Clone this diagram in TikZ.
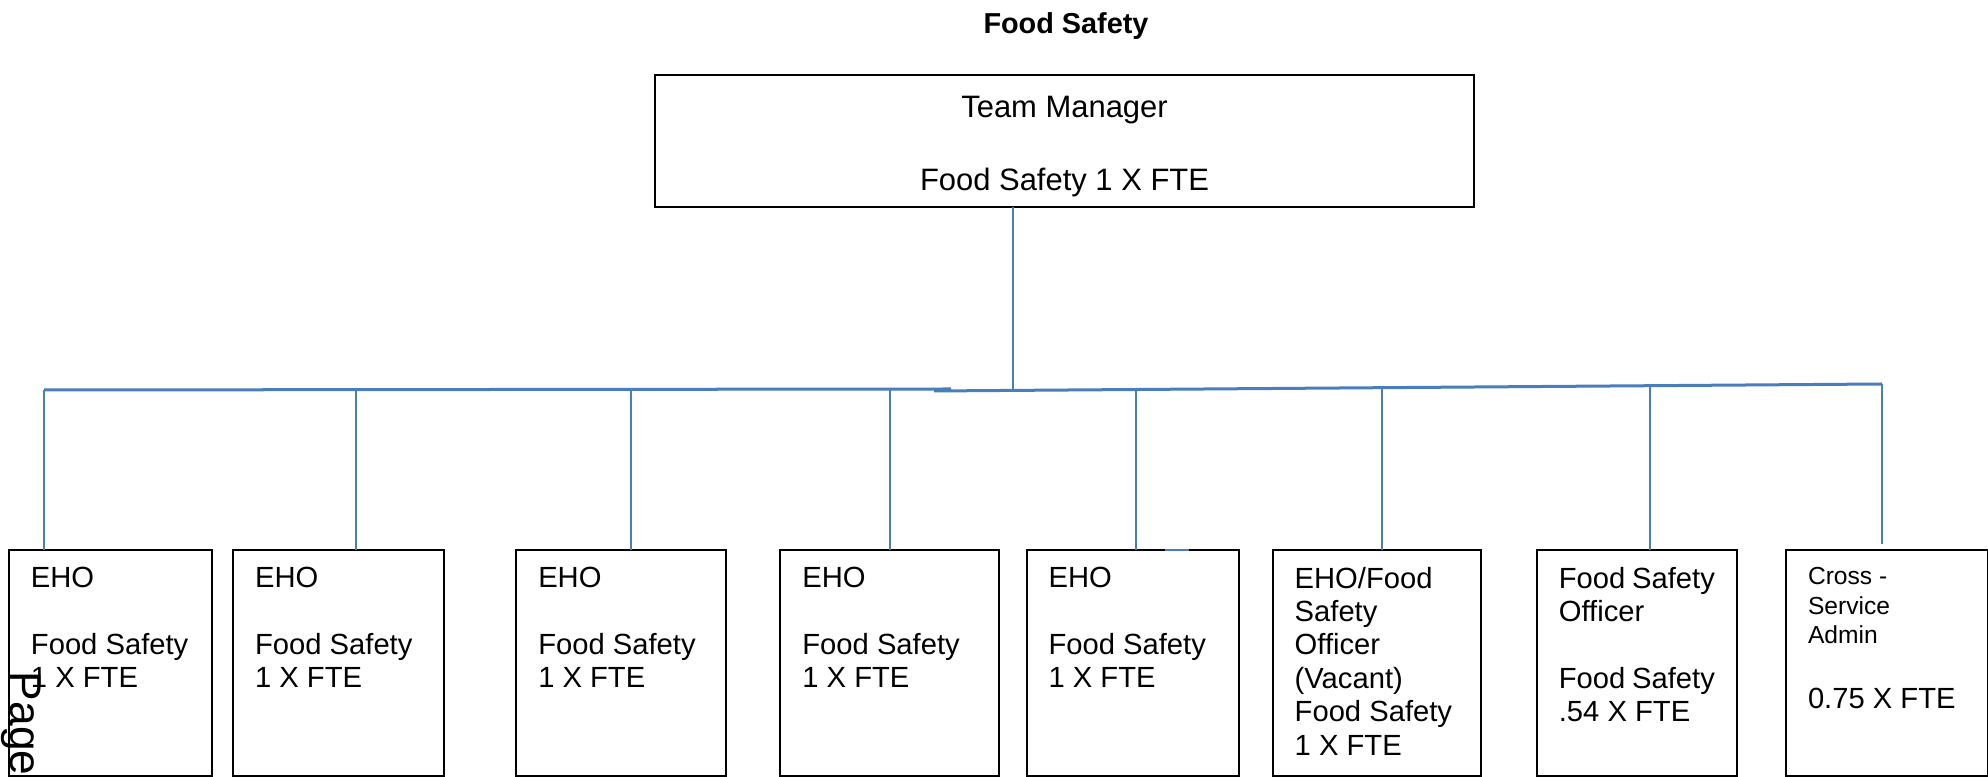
\documentclass[tikz,border=0pt]{standalone}
\usepackage{fontspec}
\setmainfont{Liberation Sans}
\usetikzlibrary{positioning}
\definecolor{orgblue}{RGB}{74,126,187}

\begin{document}
\begin{tikzpicture}[%
        x=0.01cm, y=-0.01cm,
        every node/.style={inner sep=0pt, outer sep=0pt},
        post/.style={rectangle, draw=black, line width=0.02cm,
          inner xsep=0.22cm, inner ysep=0.17cm,
          font=\fontsize{8.3}{9.5}\selectfont,
          execute at begin node={\begin{minipage}[c][1.92cm][t]{#1}\raggedright},
          execute at end node={\end{minipage}}},
        link/.style={draw=orgblue, line width=0.02cm},
        bus/.style={draw=orgblue, line width=0.03cm}
      ]
      \useasboundingbox (0,0) rectangle (1988,777);
      \node [] (title) at (1066,34) [anchor=base, font=\bfseries\fontsize{8.2}{10}\selectfont] {Food Safety};
      \node [] (0) at (1064.5,141) [rectangle, draw=black, line width=0.02cm, minimum width=8.19cm, minimum height=1.32cm, align=center, font=\fontsize{8.8}{10}\selectfont] {\rule{0pt}{9.2pt}Team Manager\\[11pt]Food Safety 1 X FTE};
      \node [] (1) at (110.5,663) [post=1.59cm] {EHO\\[9.5pt]Food~Safety\\1 X FTE};
      \node [] (2) [post=1.67cm, right=0.21cm of 1] {EHO\\[9.5pt]Food~Safety\\1 X FTE};
      \node [] (3) [post=1.66cm, right=0.72cm of 2] {EHO\\[9.5pt]Food~Safety\\1 X FTE};
      \node [] (4) [post=1.74cm, right=0.54cm of 3] {EHO\\[9.5pt]Food~Safety\\1 X FTE};
      \node [] (5) [post=1.68cm, right=0.28cm of 4] {EHO\\[9.5pt]Food~Safety\\1 X FTE};
      \node [] (6) [post=1.64cm, right=0.34cm of 5] {EHO/Food\\Safety\\Officer\\(Vacant)\\Food~Safety\\1 X FTE};
      \node [] (7) [post=1.56cm, right=0.56cm of 6] {Food~Safety\\Officer\\[9.5pt]Food~Safety\\.54 X FTE};
      \node [] (8) [post=1.58cm, right=0.49cm of 7] {{\fontsize{7}{8.5}\selectfont Cross -\\Service\\Admin\par}\vspace{8.9pt}0.75 X FTE};
      \node [] (page) at (11,672) [rotate=-90, anchor=base west, font=\fontsize{12.6}{14}\selectfont] {Page};
      \coordinate (hub) at (1013,389);
      \coordinate (lbus) at (951,389);
      \coordinate (rbus) at (934,391);
      \coordinate (d1) at (44,390);
      \coordinate (d2) at (356,390);
      \coordinate (d3) at (631,389);
      \coordinate (d4) at (890,389);
      \coordinate (d5) at (1136,390);
      \coordinate (d6) at (1382,388);
      \coordinate (d7) at (1650,386);
      \coordinate (d8) at (1882,384);
      \coordinate (e8) at (1882,544);
      \path [bus] (d1) edge (lbus)
      (rbus) edge (d8);
      \path [link] (0.south -| hub) edge (hub)
      (d1) edge (d1 |- 1.north)
      (d2) edge (d2 |- 2.north)
      (d3) edge (d3 |- 3.north)
      (d4) edge (d4 |- 4.north)
      (d5) edge (d5 |- 5.north)
      (d6) edge (d6 |- 6.north)
      (d7) edge (d7 |- 7.north)
      (d8) edge (e8)
      ([xshift=1.38cm]5.north west) edge ([xshift=1.62cm]5.north west);
    \end{tikzpicture}
\end{document}
